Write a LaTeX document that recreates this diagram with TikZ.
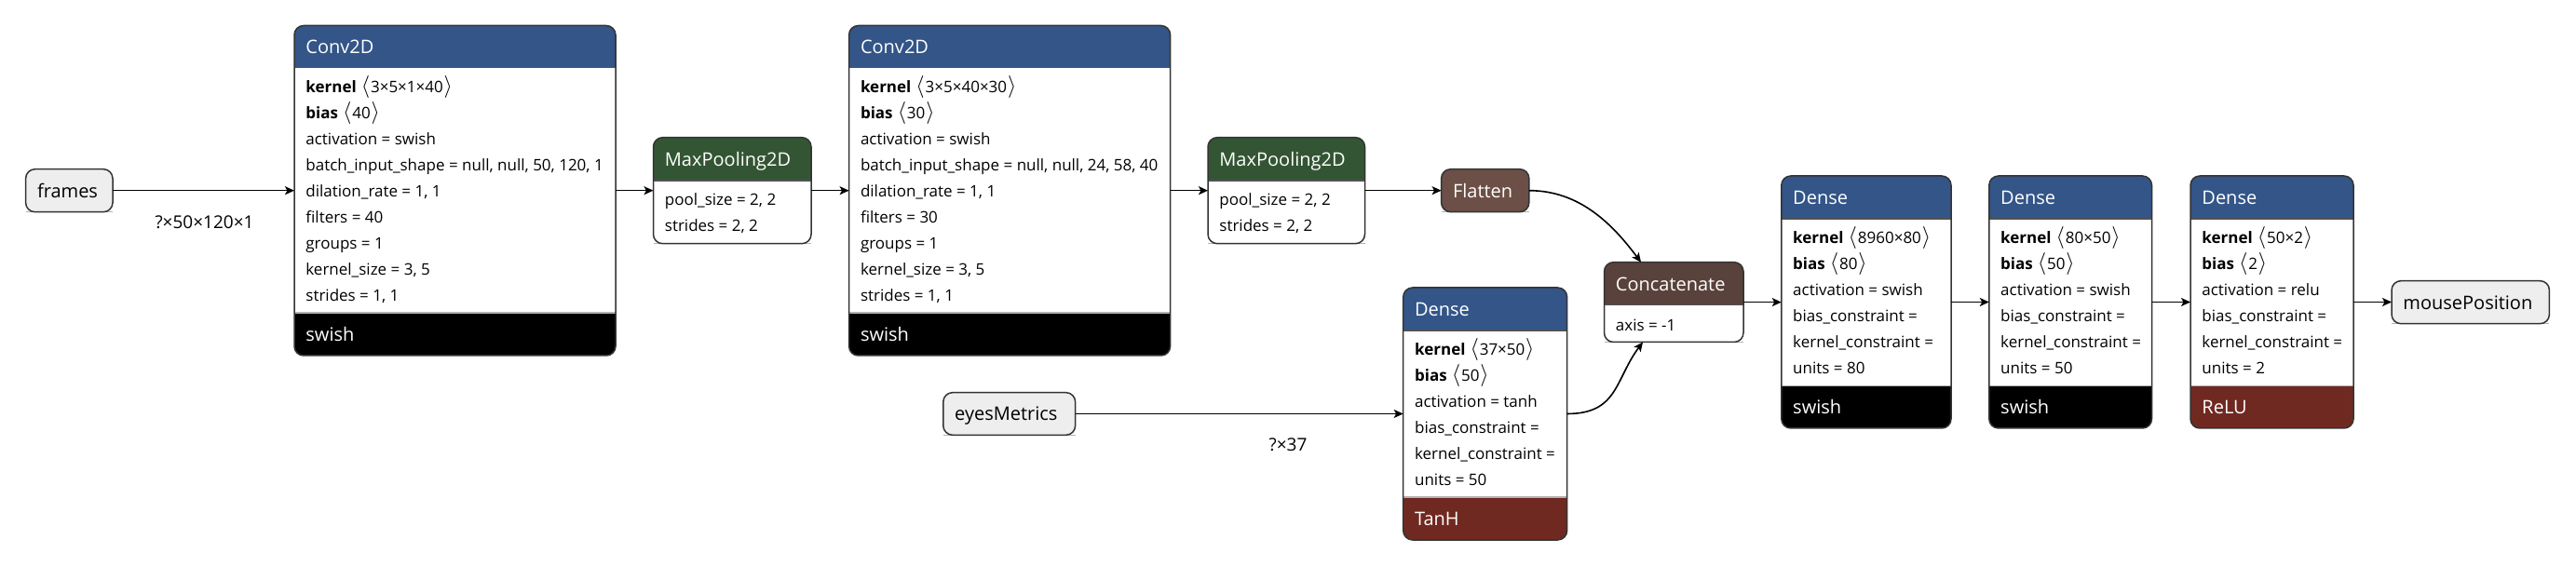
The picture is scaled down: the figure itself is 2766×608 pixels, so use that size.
\documentclass[tikz,border=0pt]{standalone}
\usepackage{fontspec}
\setmainfont{Open Sans}
\usetikzlibrary{arrows.meta,fit}
\definecolor{layerc}{RGB}{51,85,136}
\definecolor{poolc}{RGB}{51,85,51}
\definecolor{shapec}{RGB}{108,79,71}
\definecolor{tensorc}{RGB}{89,66,59}
\definecolor{actc}{RGB}{112,41,33}
\definecolor{inputc}{RGB}{238,238,238}
\definecolor{borderc}{RGB}{51,51,51}
\newcommand{\tfont}{\fontsize{10}{12}\selectfont}
\newcommand{\afont}{\fontsize{8.5}{10}\selectfont}
\newcommand{\lfont}{\fontsize{9.5}{11}\selectfont}
\newcommand{\bfont}{\fontsize{11.5}{12}\selectfont}
\newcommand{\kv}[2]{\textbf{#1}\hspace{0.3em}{\bfont$\langle$}\hspace{0.05em}#2\hspace{0.05em}{\bfont$\rangle$}}
\tikzset{
  nborder/.style={draw=borderc, line width=0.75pt, rounded corners=5pt},
  attrtext/.style={anchor=base west, inner sep=0pt, font=\afont, text=black, yshift=-3pt},
  titletext/.style={anchor=base west, inner sep=0pt, font=\tfont, yshift=-3.7pt},
  hub/.style={inner sep=0pt, outer sep=0pt, draw=none},
  conn/.style={draw=black, line width=0.8pt, -{Stealth[length=5pt,width=4.5pt,inset=1.2pt]}},
  elabel/.style={font=\lfont, anchor=base, inner sep=0pt, yshift=-3.4pt},
  sepdark/.style={draw=borderc!85, line width=0.6pt},
  seplight/.style={draw=black!30, line width=0.6pt},
}
% name, x1, y1, x2, y2, yh, yf, headcolor, footcolor
\newcommand{\netbox}[9]{%
  \begin{scope}
    \clip[rounded corners=5pt] (#2,#3) rectangle (#4,#5);
    \fill[white] (#2,#3) rectangle (#4,#5);
    \fill[#8] (#2,#3) rectangle (#4,#6);
    \fill[#9] (#2,#7) rectangle (#4,#5);
  \end{scope}
  \draw[sepdark] (#2,#6) -- (#4,#6);
  \draw[seplight] (#2,#7) -- (#4,#7);
  \draw[nborder] (#2,#3) rectangle (#4,#5);
  \coordinate (#1-nw) at (#2,#3);
  \coordinate (#1-se) at (#4,#5);
  \node[hub, fit=(#1-nw)(#1-se)] (#1) {};
}
\newcommand{\ttl}[5][white]{\node[titletext, text=#1] (#2) at (#3,#4) {#5};}
\newcommand{\att}[4]{\node[attrtext] (#1) at (#2,#3) {#4};}
\begin{document}
\begin{tikzpicture}[x=0.5pt,y=-0.5pt]
\useasboundingbox (0,0) rectangle (2766,608);
\fill[white] (0,0) rectangle (2766,608);

% ---- inputs
\netbox{frames}{27.6}{181.7}{121}{227.7}{227.7}{227.7}{inputc}{inputc}
\ttl[black]{frames-t}{39.6}{204.7}{frames}
\netbox{eyes}{1012.8}{421.7}{1154.6}{467.3}{467.3}{467.3}{inputc}{inputc}
\ttl[black]{eyes-t}{1024.8}{444.5}{eyesMetrics}
\netbox{mouse}{2568}{301.7}{2737.4}{347.7}{347.7}{347.7}{inputc}{inputc}
\ttl[black]{mouse-t}{2580}{324.7}{mousePosition}

% ---- Conv2D 1
\netbox{conv1}{316}{27.5}{661}{382}{72.7}{336}{layerc}{black}
\ttl{conv1-t}{328}{50.1}{Conv2D}
\att{conv1-a1}{328}{94}{\kv{kernel}{3×5×1×40}}
\att{conv1-a2}{328}{121.9}{\kv{bias}{40}}
\att{conv1-a3}{328}{149.8}{activation = swish}
\att{conv1-a4}{328}{177.7}{batch\_input\_shape = null, null, 50, 120, 1}
\att{conv1-a5}{328}{205.6}{dilation\_rate = 1, 1}
\att{conv1-a6}{328}{233.5}{filters = 40}
\att{conv1-a7}{328}{261.4}{groups = 1}
\att{conv1-a8}{328}{289.3}{kernel\_size = 3, 5}
\att{conv1-a9}{328}{317.2}{strides = 1, 1}
\ttl{conv1-f}{328}{359}{swish}

% ---- MaxPooling 1
\netbox{mp1}{701.5}{147.7}{871}{261.7}{194}{261.7}{poolc}{white}
\ttl{mp1-t}{713.5}{170.85}{MaxPooling2D}
\att{mp1-a1}{713.5}{215}{pool\_size = 2, 2}
\att{mp1-a2}{713.5}{243}{strides = 2, 2}

% ---- Conv2D 2
\netbox{conv2}{911.6}{27.5}{1256.6}{382}{72.7}{336}{layerc}{black}
\ttl{conv2-t}{923.6}{50.1}{Conv2D}
\att{conv2-a1}{923.6}{94}{\kv{kernel}{3×5×40×30}}
\att{conv2-a2}{923.6}{121.9}{\kv{bias}{30}}
\att{conv2-a3}{923.6}{149.8}{activation = swish}
\att{conv2-a4}{923.6}{177.7}{batch\_input\_shape = null, null, 24, 58, 40}
\att{conv2-a5}{923.6}{205.6}{dilation\_rate = 1, 1}
\att{conv2-a6}{923.6}{233.5}{filters = 30}
\att{conv2-a7}{923.6}{261.4}{groups = 1}
\att{conv2-a8}{923.6}{289.3}{kernel\_size = 3, 5}
\att{conv2-a9}{923.6}{317.2}{strides = 1, 1}
\ttl{conv2-f}{923.6}{359}{swish}

% ---- MaxPooling 2
\netbox{mp2}{1297}{147.7}{1465.5}{261.7}{194}{261.7}{poolc}{white}
\ttl{mp2-t}{1309}{170.85}{MaxPooling2D}
\att{mp2-a1}{1309}{215}{pool\_size = 2, 2}
\att{mp2-a2}{1309}{243}{strides = 2, 2}

% ---- Flatten
\netbox{flat}{1547.6}{181.7}{1641.8}{227.7}{227.7}{227.7}{shapec}{shapec}
\ttl{flat-t}{1559.6}{204.7}{Flatten}

% ---- Dense (tanh)
\netbox{dsm}{1506.7}{309}{1682.6}{580}{355}{534}{layerc}{actc}
\ttl{dsm-t}{1518.7}{332}{Dense}
\att{dsm-a1}{1518.7}{376}{\kv{kernel}{37×50}}
\att{dsm-a2}{1518.7}{404}{\kv{bias}{50}}
\att{dsm-a3}{1518.7}{432}{activation = tanh}
\att{dsm-a4}{1518.7}{460}{bias\_constraint =}
\att{dsm-a5}{1518.7}{488}{kernel\_constraint =}
\att{dsm-a6}{1518.7}{516}{units = 50}
\ttl{dsm-f}{1518.7}{557}{TanH}

% ---- Concatenate
\netbox{cat}{1722.5}{281.7}{1872}{367.5}{327.7}{367.5}{tensorc}{white}
\ttl{cat-t}{1734.5}{304.7}{Concatenate}
\att{cat-a1}{1734.5}{349.3}{axis = -1}

% ---- Dense A
\netbox{da}{1912.8}{189}{2095}{460}{235}{414.3}{layerc}{black}
\ttl{da-t}{1924.8}{212}{Dense}
\att{da-a1}{1924.8}{256}{\kv{kernel}{8960×80}}
\att{da-a2}{1924.8}{284}{\kv{bias}{80}}
\att{da-a3}{1924.8}{312}{activation = swish}
\att{da-a4}{1924.8}{340}{bias\_constraint =}
\att{da-a5}{1924.8}{368}{kernel\_constraint =}
\att{da-a6}{1924.8}{396}{units = 80}
\ttl{da-f}{1924.8}{437.15}{swish}

% ---- Dense B
\netbox{db}{2135.8}{189}{2310.5}{460}{235}{414.3}{layerc}{black}
\ttl{db-t}{2147.8}{212}{Dense}
\att{db-a1}{2147.8}{256}{\kv{kernel}{80×50}}
\att{db-a2}{2147.8}{284}{\kv{bias}{50}}
\att{db-a3}{2147.8}{312}{activation = swish}
\att{db-a4}{2147.8}{340}{bias\_constraint =}
\att{db-a5}{2147.8}{368}{kernel\_constraint =}
\att{db-a6}{2147.8}{396}{units = 50}
\ttl{db-f}{2147.8}{437.15}{swish}

% ---- Dense C
\netbox{dc}{2352}{189}{2527}{460}{235}{414.3}{layerc}{actc}
\ttl{dc-t}{2364}{212}{Dense}
\att{dc-a1}{2364}{256}{\kv{kernel}{50×2}}
\att{dc-a2}{2364}{284}{\kv{bias}{2}}
\att{dc-a3}{2364}{312}{activation = relu}
\att{dc-a4}{2364}{340}{bias\_constraint =}
\att{dc-a5}{2364}{368}{kernel\_constraint =}
\att{dc-a6}{2364}{396}{units = 2}
\ttl{dc-f}{2364}{437.15}{ReLU}

% ---- connectors
\coordinate (cattop) at (1762,281.7);
\coordinate (catbot) at (1764,367.5);
\draw[conn] (frames.east) -- (frames.east -| conv1.west);
\draw[conn] (mp1.west -| conv1.east) -- (mp1.west);
\draw[conn] (mp1.east) -- (mp1.east -| conv2.west);
\draw[conn] (mp2.west -| conv2.east) -- (mp2.west);
\draw[conn] (mp2.east) -- (mp2.east -| flat.west);
\draw[conn] (flat.east) .. controls +(55,0) and +(-30,-40) .. (cattop);
\draw[conn] (eyes.east) -- (eyes.east -| dsm.west);
\draw[conn] (dsm.east) .. controls +(55,0) and +(-30,40) .. (catbot);
\draw[conn] (cat.east) -- (cat.east -| da.west);
\draw[conn] (da.east) -- (db.west);
\draw[conn] (db.east) -- (dc.west);
\draw[conn] (dc.east) -- (dc.east -| mouse.west);

% ---- edge labels
\node[elabel] (lab1) at (219.5,238.3) {?×50×120×1};
\node[elabel] (lab2) at (1383,478) {?×37};
\end{tikzpicture}
\end{document}
